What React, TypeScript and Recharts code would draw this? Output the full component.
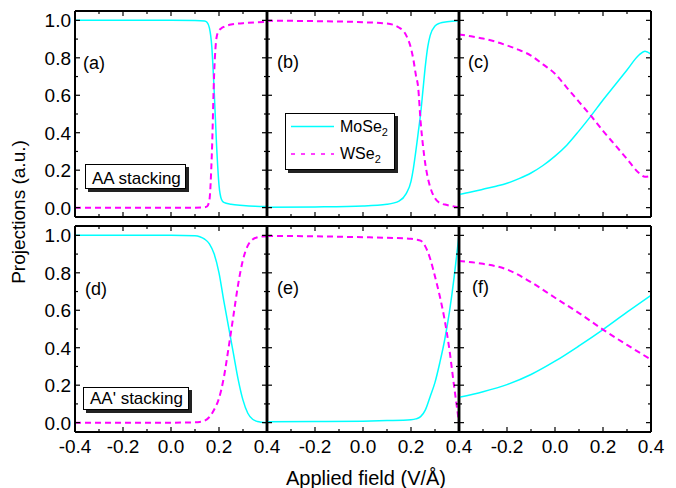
import React from 'react';
import { LineChart, Line, XAxis, YAxis, Legend } from 'recharts';

// shared ticks
const fieldTicks = [-0.4, -0.3, -0.2, -0.1, 0, 0.1, 0.2, 0.3, 0.4];
const projTicks = [0, 0.1, 0.2, 0.3, 0.4, 0.5, 0.6, 0.7, 0.8, 0.9, 1.0];

// (a) AA stacking
const fieldA = [-0.4, -0.2, 0.0, 0.1, 0.14, 0.15, 0.16, 0.17, 0.18, 0.19, 0.2, 0.21, 0.22, 0.25, 0.3, 0.35, 0.4];
const moA = [1.0, 1.0, 1.0, 0.999, 0.997, 0.99, 0.96, 0.86, 0.62, 0.33, 0.12, 0.045, 0.028, 0.018, 0.012, 0.008, 0.006];
const wA = [0, 0, 0, 0, 0.002, 0.006, 0.04, 0.28, 0.72, 0.91, 0.945, 0.958, 0.965, 0.978, 0.985, 0.989, 0.991];

// (b)
const fieldB = [-0.4, -0.2, 0.0, 0.1, 0.15, 0.18, 0.2, 0.21, 0.22, 0.23, 0.24, 0.25, 0.26, 0.27, 0.28, 0.3, 0.32, 0.35, 0.4];
const moB = [0.002, 0.004, 0.009, 0.018, 0.035, 0.075, 0.14, 0.21, 0.3, 0.4, 0.5, 0.63, 0.76, 0.86, 0.92, 0.97, 0.985, 0.993, 0.998];
const wB = [0.998, 0.996, 0.99, 0.983, 0.962, 0.92, 0.85, 0.79, 0.71, 0.64, 0.46, 0.33, 0.23, 0.16, 0.11, 0.05, 0.025, 0.014, 0.002];

// (c)
const fieldC = [-0.4, -0.35, -0.3, -0.25, -0.2, -0.15, -0.1, -0.05, 0.0, 0.05, 0.1, 0.15, 0.2, 0.25, 0.3, 0.35, 0.375, 0.4];
const moC = [0.07, 0.083, 0.098, 0.113, 0.13, 0.155, 0.185, 0.225, 0.275, 0.335, 0.41, 0.49, 0.575, 0.655, 0.735, 0.815, 0.835, 0.82];
const wC = [0.925, 0.915, 0.903, 0.887, 0.866, 0.842, 0.812, 0.765, 0.715, 0.64, 0.565, 0.49, 0.41, 0.335, 0.26, 0.185, 0.165, 0.17];

// (d) AA' stacking
const fieldD = [-0.4, -0.2, 0.0, 0.1, 0.12, 0.14, 0.16, 0.18, 0.2, 0.22, 0.24, 0.26, 0.28, 0.3, 0.32, 0.34, 0.36, 0.38, 0.4];
const moD = [1.0, 1.0, 1.0, 0.998, 0.993, 0.98, 0.955, 0.9, 0.8, 0.65, 0.51, 0.37, 0.23, 0.12, 0.05, 0.018, 0.006, 0.002, 0.0];
const wD = [0, 0, 0, 0.002, 0.004, 0.01, 0.03, 0.07, 0.13, 0.24, 0.4, 0.57, 0.74, 0.87, 0.945, 0.978, 0.99, 0.994, 0.995];

// (e)
const fieldE = [-0.4, -0.2, 0.0, 0.1, 0.2, 0.22, 0.24, 0.26, 0.28, 0.3, 0.32, 0.34, 0.36, 0.38, 0.39, 0.4];
const moE = [0.005, 0.006, 0.008, 0.011, 0.016, 0.02, 0.032, 0.068, 0.14, 0.215, 0.32, 0.44, 0.59, 0.78, 0.89, 1.0];
const wE = [0.997, 0.995, 0.99, 0.987, 0.982, 0.978, 0.972, 0.94, 0.875, 0.78, 0.675, 0.55, 0.39, 0.19, 0.095, 0.0];

// (f)
const fieldF = [-0.4, -0.3, -0.2, -0.1, 0.0, 0.1, 0.2, 0.3, 0.4];
const moF = [0.135, 0.165, 0.203, 0.257, 0.328, 0.41, 0.497, 0.59, 0.68];
const wF = [0.863, 0.848, 0.818, 0.75, 0.667, 0.585, 0.497, 0.415, 0.337];

const CYAN = '#00ffff';
const MAGENTA = '#ff00ff';
const FONT = 'Arial, "Liberation Sans", sans-serif';

const PW = 192, PH = 206;
const AXW = 45, AXH = 30, MR = 22;
const cols = [75, 267, 459];
const rows = [11, 226];

const zip = (xs: number[], ys: number[]) => xs.map((x, i) => ({ x, y: ys[i] }));
const isMajor = (v: number) => Math.round(v * 10) % 2 === 0;
const fmt = (v: number) => v.toFixed(1);

const legendBox = (props: any) => {
  const items = props.payload || [];
  return (
    <svg width={114} height={61} style={{ display: 'block' }}>
      <rect x={3} y={3} width={110} height={57} fill="#222" />
      <rect x={0.5} y={0.5} width={109} height={56} fill="#fff" stroke="#000" strokeWidth={1} />
      {items.map((it: any, i: number) => {
        const cy = 13.5 + i * 27.5;
        const name = String(it.value);
        return (
          <g key={i}>
            <line x1={6} x2={49} y1={cy} y2={cy} stroke={it.color}
              strokeWidth={1.5} strokeDasharray={it.payload?.strokeDasharray ? '4 6' : undefined} />
            <text x={55} y={cy + 5} fontSize={16} fontFamily={FONT} fill="#000">
              {name.slice(0, -1)}
              <tspan fontSize={11} dy={4}>{name.slice(-1)}</tspan>
            </text>
          </g>
        );
      })}
    </svg>
  );
};

function Panel({ col, row, field, mo, w, legend }:
  { col: number; row: number; field: number[]; mo: number[]; w: number[]; legend?: boolean }) {
  const left = cols[col] - AXW;
  const top = rows[row] - 6;
  const showX = row === 1;
  const showY = col === 0;
  const lw = col === 0 ? 2 : 2.5;
  const rw = col === 2 ? 2 : 2.5;

  const bottomTick = (p: any) => {
    const v = p.payload.value;
    const major = isMajor(v);
    const lab = showX && major && !(col > 0 && v < -0.35);
    return (
      <g>
        <line x1={p.x} x2={p.x} y1={p.y} y2={p.y - (major ? 5 : 3)} stroke="#000" strokeWidth={1.2} />
        {lab && <text x={p.x} y={p.y + 21} textAnchor="middle" fontSize={19} fontFamily={FONT} fill="#000">{fmt(v)}</text>}
      </g>
    );
  };
  const topTick = (p: any) => {
    const major = isMajor(p.payload.value);
    return <line x1={p.x} x2={p.x} y1={p.y} y2={p.y + (major ? 5 : 3)} stroke="#000" strokeWidth={1.2} />;
  };
  const leftTick = (p: any) => {
    const v = p.payload.value;
    const major = isMajor(v);
    return (
      <g>
        <line x1={p.x} x2={p.x + (major ? 5 : 3)} y1={p.y} y2={p.y} stroke="#000" strokeWidth={1.2} />
        {showY && major && <text x={p.x - 4} y={p.y + 7} textAnchor="end" fontSize={19} fontFamily={FONT} fill="#000">{fmt(v)}</text>}
      </g>
    );
  };
  const rightTick = (p: any) => {
    const major = isMajor(p.payload.value);
    return <line x1={p.x} x2={p.x - (major ? 5 : 3)} y1={p.y} y2={p.y} stroke="#000" strokeWidth={1.2} />;
  };

  return (
    <div style={{ position: 'absolute', left, top }}>
      <LineChart width={AXW + PW + 1 + MR} height={6 + PH + AXH} margin={{ top: 5, right: MR, bottom: 0, left: 0 }}>
        <XAxis xAxisId="b" dataKey="x" type="number" domain={[-0.4, 0.4]} allowDataOverflow ticks={fieldTicks}
          interval={0} height={AXH} tickLine={false} tickSize={0} tickMargin={0}
          axisLine={{ stroke: '#000', strokeWidth: 2 }} tick={bottomTick} />
        <XAxis xAxisId="t" orientation="top" dataKey="x" type="number" domain={[-0.4, 0.4]} allowDataOverflow ticks={fieldTicks}
          interval={0} height={1} tickLine={false} tickSize={0} tickMargin={0}
          axisLine={{ stroke: '#000', strokeWidth: 2 }} tick={topTick} />
        <YAxis yAxisId="l" type="number" domain={[-0.05, 1.05]} allowDataOverflow ticks={projTicks}
          interval={0} width={AXW} tickLine={false} tickSize={0} tickMargin={0}
          axisLine={{ stroke: '#000', strokeWidth: lw }} tick={leftTick} />
        <YAxis yAxisId="r" orientation="right" type="number" domain={[-0.05, 1.05]} allowDataOverflow ticks={projTicks}
          interval={0} width={1} tickLine={false} tickSize={0} tickMargin={0}
          axisLine={{ stroke: '#000', strokeWidth: rw }} tick={rightTick} />
        <Line xAxisId="b" yAxisId="l" data={zip(field, mo)} dataKey="y" name="MoSe2" type="monotone"
          stroke={CYAN} strokeWidth={1.5} dot={false} isAnimationActive={false} />
        <Line xAxisId="b" yAxisId="l" data={zip(field, w)} dataKey="y" name="WSe2" type="monotone"
          stroke={MAGENTA} strokeWidth={2} strokeDasharray="6 4" dot={false} isAnimationActive={false} />
        {legend && (
          <Legend layout="vertical" align="center" verticalAlign="middle" content={legendBox}
            wrapperStyle={{ left: 285 - left, top: 113 - top, width: 114, height: 61 }} />
        )}
      </LineChart>
    </div>
  );
}

const panelLabels = [
  { t: '(a)', x: 83, y: 69 },
  { t: '(b)', x: 277, y: 68 },
  { t: '(c)', x: 468, y: 68 },
  { t: '(d)', x: 85, y: 295 },
  { t: '(e)', x: 277, y: 294 },
  { t: '(f)', x: 472, y: 293 },
];

export default function App() {
  return (
    <div style={{ position: 'absolute', left: 0, top: 0, width: 676, height: 488, background: '#fff', fontFamily: FONT }}>
      <Panel col={0} row={0} field={fieldA} mo={moA} w={wA} />
      <Panel col={1} row={0} field={fieldB} mo={moB} w={wB} legend />
      <Panel col={2} row={0} field={fieldC} mo={moC} w={wC} />
      <Panel col={0} row={1} field={fieldD} mo={moD} w={wD} />
      <Panel col={1} row={1} field={fieldE} mo={moE} w={wE} />
      <Panel col={2} row={1} field={fieldF} mo={moF} w={wF} />
      <svg width={676} height={488} style={{ position: 'absolute', left: 0, top: 0, pointerEvents: 'none' }}>
        <text transform="translate(25,212) rotate(-90)" textAnchor="middle" fontSize={19} fontFamily={FONT} fill="#000">Projections (a.u.)</text>
        <text x={366} y={485} textAnchor="middle" fontSize={20} fontFamily={FONT} fill="#000">Applied field (V/Å)</text>
        {panelLabels.map(l => (
          <text key={l.t} x={l.x} y={l.y} fontSize={18} fontFamily={FONT} fill="#000">{l.t}</text>
        ))}
        <rect x={88} y={167} width={101} height={25} fill="#222" />
        <rect x={85.5} y={164.5} width={100} height={24} fill="#fff" stroke="#000" />
        <text x={92} y={184} fontSize={17} fontFamily={FONT} fill="#000">AA stacking</text>
        <rect x={86} y={390} width={106} height={23} fill="#222" />
        <rect x={83.5} y={387.5} width={105} height={22} fill="#fff" stroke="#000" />
        <text x={90} y={404} fontSize={17} fontFamily={FONT} fill="#000">AA' stacking</text>
      </svg>
    </div>
  );
}
